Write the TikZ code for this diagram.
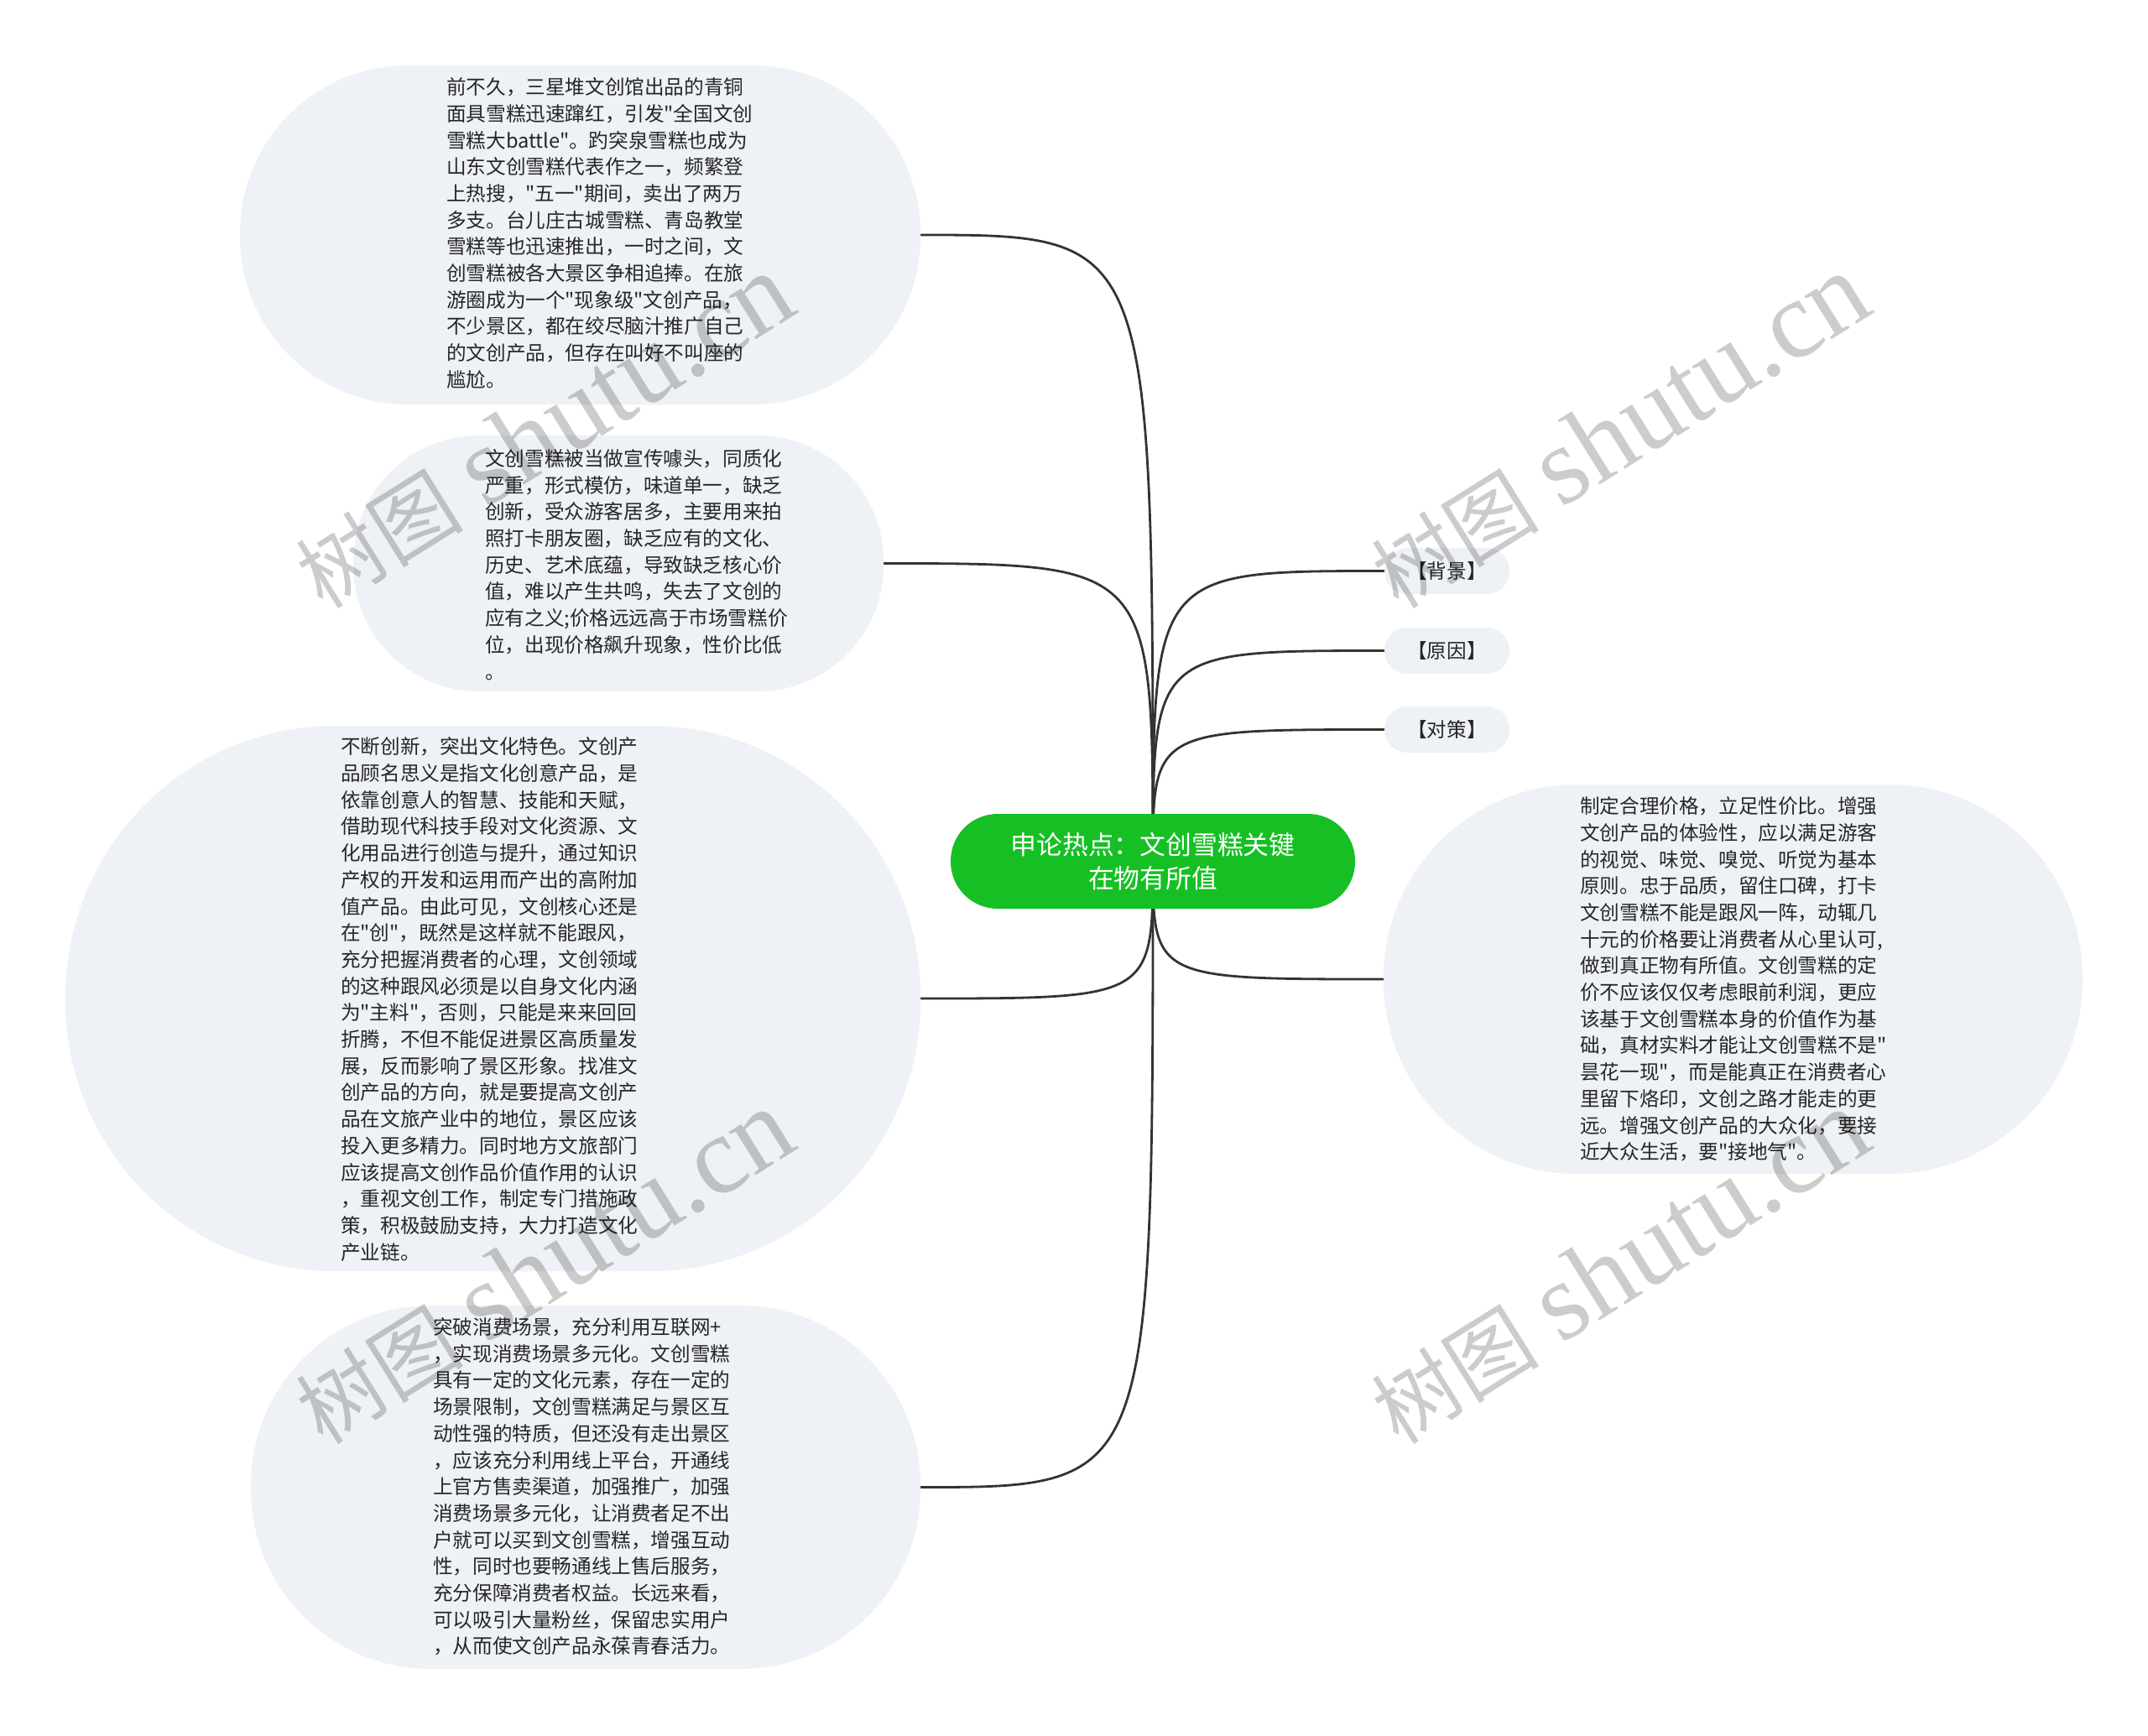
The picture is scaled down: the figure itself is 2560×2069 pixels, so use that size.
\documentclass[tikz,border=0pt]{standalone}
\usepackage{fontspec}
\setmainfont{Noto Sans CJK SC}[Ligatures=TeXOff]
\newfontfamily\wmcjk{Noto Sans CJK SC}
\newfontfamily\wmlatin{Liberation Serif}
\definecolor{bubblefill}{RGB}{238,241,245}
\definecolor{rootgreen}{RGB}{22,192,36}
\definecolor{bodytxt}{RGB}{38,38,38}
\definecolor{edgecol}{RGB}{51,51,51}
\pgfdeclarelayer{bg}
\pgfdeclarelayer{fg}
\pgfsetlayers{bg,main,fg}
\tikzset{
  bubblebox/.style={fill=bubblefill, draw=none, inner sep=0pt},
  bodytext/.style={font=\fontsize{23.6pt}{31.7pt}\selectfont, align=left, inner sep=0pt, text=bodytxt, anchor=west},
  rootbox/.style={fill=rootgreen, draw=none, text=white, align=center, inner sep=0pt,
    minimum width=482pt, minimum height=113pt, rounded corners=56pt,
    font=\fontsize{30.8pt}{40pt}\selectfont},
  tagbox/.style={fill=bubblefill, draw=none, inner sep=0pt, text=bodytxt,
    minimum width=149pt, minimum height=55pt, rounded corners=27pt,
    font=\fontsize{23.6pt}{28pt}\selectfont},
  conn/.style={draw=edgecol, line width=2.8pt},
  wmark/.style={text=black, text opacity=0.2, inner sep=0pt, rotate=32}
}
\newcommand{\wmtext}{{\wmcjk\fontsize{100pt}{100pt}\selectfont 树图}\hspace{28pt}{\wmlatin\fontsize{132pt}{132pt}\selectfont shutu.cn}}
\begin{document}
\begin{tikzpicture}[x=1pt,y=-1pt]
\useasboundingbox (0,0) rectangle (2560,2069);

% bubbles
\node[bubblebox, minimum width=811pt, minimum height=404pt, rounded corners=200pt] (b1) at (691.5,280) {};
\node[bubblebox, minimum width=632pt, minimum height=305pt, rounded corners=150pt] (b2) at (737,671.5) {};
\node[bubblebox, minimum width=1019pt, minimum height=650pt, rounded corners=322pt] (b3) at (587.5,1190) {};
\node[bubblebox, minimum width=798pt, minimum height=433pt, rounded corners=214pt] (b4) at (698,1772.5) {};
\node[bubblebox, minimum width=833pt, minimum height=464pt, rounded corners=230pt] (b5) at (2065.5,1167) {};

% texts
\node[bodytext] (t1) at (532,278) {前不久，三星堆文创馆出品的青铜\\面具雪糕迅速蹿红，引发"全国文创\\雪糕大battle"。趵突泉雪糕也成为\\山东文创雪糕代表作之一，频繁登\\上热搜，"五一"期间，卖出了两万\\多支。台儿庄古城雪糕、青岛教堂\\雪糕等也迅速推出，一时之间，文\\创雪糕被各大景区争相追捧。在旅\\游圈成为一个"现象级"文创产品，\\不少景区，都在绞尽脑汁推广自己\\的文创产品，但存在叫好不叫座的\\尴尬。};
\node[bodytext] (t2) at (578,673) {文创雪糕被当做宣传噱头，同质化\\严重，形式模仿，味道单一，缺乏\\创新，受众游客居多，主要用来拍\\照打卡朋友圈，缺乏应有的文化、\\历史、艺术底蕴，导致缺乏核心价\\值，难以产生共鸣，失去了文创的\\应有之义;价格远远高于市场雪糕价\\位，出现价格飙升现象，性价比低\\。};
\node[bodytext] (t3) at (406,1191) {不断创新，突出文化特色。文创产\\品顾名思义是指文化创意产品，是\\依靠创意人的智慧、技能和天赋，\\借助现代科技手段对文化资源、文\\化用品进行创造与提升，通过知识\\产权的开发和运用而产出的高附加\\值产品。由此可见，文创核心还是\\在"创"，既然是这样就不能跟风，\\充分把握消费者的心理，文创领域\\的这种跟风必须是以自身文化内涵\\为"主料"，否则，只能是来来回回\\折腾，不但不能促进景区高质量发\\展，反而影响了景区形象。找准文\\创产品的方向，就是要提高文创产\\品在文旅产业中的地位，景区应该\\投入更多精力。同时地方文旅部门\\应该提高文创作品价值作用的认识\\，重视文创工作，制定专门措施政\\策，积极鼓励支持，大力打造文化\\产业链。};
\node[bodytext] (t4) at (516,1772) {突破消费场景，充分利用互联网+\\，实现消费场景多元化。文创雪糕\\具有一定的文化元素，存在一定的\\场景限制，文创雪糕满足与景区互\\动性强的特质，但还没有走出景区\\，应该充分利用线上平台，开通线\\上官方售卖渠道，加强推广，加强\\消费场景多元化，让消费者足不出\\户就可以买到文创雪糕，增强互动\\性，同时也要畅通线上售后服务，\\充分保障消费者权益。长远来看，\\可以吸引大量粉丝，保留忠实用户\\，从而使文创产品永葆青春活力。};
\node[bodytext] (t5) at (1883,1167) {制定合理价格，立足性价比。增强\\文创产品的体验性，应以满足游客\\的视觉、味觉、嗅觉、听觉为基本\\原则。忠于品质，留住口碑，打卡\\文创雪糕不能是跟风一阵，动辄几\\十元的价格要让消费者从心里认可,\\做到真正物有所值。文创雪糕的定\\价不应该仅仅考虑眼前利润，更应\\该基于文创雪糕本身的价值作为基\\础，真材实料才能让文创雪糕不是"\\昙花一现"，而是能真正在消费者心\\里留下烙印，文创之路才能走的更\\远。增强文创产品的大众化，要接\\近大众生活，要"接地气"。};

% tags
\node[tagbox] (k1) at (1724.5,680.5) {【背景】};
\node[tagbox] (k2) at (1724.5,775.5) {【原因】};
\node[tagbox] (k3) at (1724.5,869.5) {【对策】};

% root
\node[rootbox] (c) at (1374,1026.5) {申论热点：文创雪糕关键\\在物有所值};

% connectors
\begin{pgfonlayer}{bg}
\draw[conn] (c.center) .. controls (c.center |- b1.east) .. (b1.east);
\draw[conn] (c.center) .. controls (c.center |- b2.east) .. (b2.east);
\draw[conn] (c.center) .. controls (c.center |- b3.east) .. (b3.east);
\draw[conn] (c.center) .. controls (c.center |- b4.east) .. (b4.east);
\draw[conn] (c.center) .. controls (c.center |- b5.west) .. (b5.west);
\draw[conn] (c.center) .. controls (c.center |- k1.west) .. (k1.west);
\draw[conn] (c.center) .. controls (c.center |- k2.west) .. (k2.west);
\draw[conn] (c.center) .. controls (c.center |- k3.west) .. (k3.west);
\end{pgfonlayer}

% watermarks
\begin{pgfonlayer}{fg}
\node[wmark] (w1) at (648,514) {\wmtext};
\node[wmark] (w2) at (1930,514) {\wmtext};
\node[wmark] (w3) at (648,1510) {\wmtext};
\node[wmark] (w4) at (1930,1510) {\wmtext};
\end{pgfonlayer}
\end{tikzpicture}
\end{document}
